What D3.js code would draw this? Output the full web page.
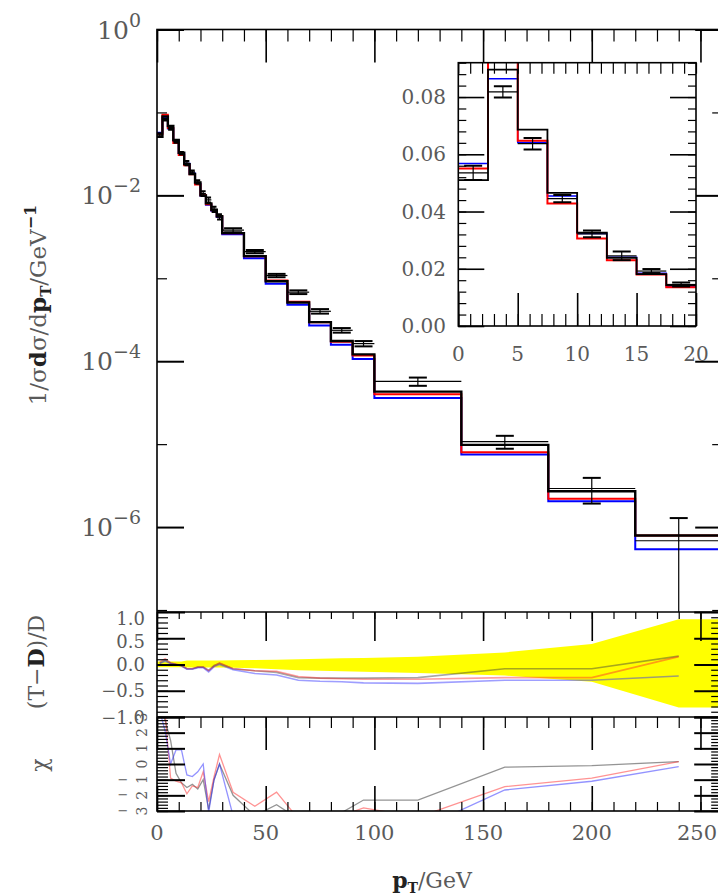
<!DOCTYPE html>
<html><head><meta charset="utf-8">
<script src="https://cdn.jsdelivr.net/npm/d3@7"></script>
<style>body{margin:0;background:#fff}svg{display:block}</style>
</head><body>
<svg id="c" width="718" height="896"></svg>
<script>
// ---------------- data ----------------
const binEdges = [0,2.5,5,7.5,10,12.5,15,17.5,20,22.5,25,27.5,30,40,50,60,70,80,90,100,140,180,220,260];
const dataVal = [0.0535,0.0818,0.0637,0.0445,0.0322,0.0245,0.0192,0.0145,0.0105,0.0088,0.0068,0.0055,0.0038,0.0021,0.00108,0.00068,0.00040,0.000236,0.000163,5.7e-5,1.07e-5,2.92e-6,6.84e-7];
const dataErr = [0.0025,0.002,0.002,0.0013,0.0012,0.0015,0.0007,0.0007,0.0007,0.0006,0.0005,0.0004,0.0002,0.0001,5e-5,3.5e-5,2.5e-5,1.5e-5,1.2e-5,6.5e-6,1.9e-6,1.0e-6,6.0e-7];
const mcBlack = [0.051,0.0896,0.0686,0.0465,0.0326,0.0238,0.0181,0.0143,0.0100,0.0080,0.0067,0.0056,0.0035,0.00185,0.00092,0.00051,0.000296,0.000175,0.000121,4.3e-5,9.8e-6,2.7e-6,7.9e-7];
const mcRed   = [0.055,0.094,0.0647,0.0428,0.0306,0.0230,0.0180,0.0135,0.0100,0.0078,0.0066,0.0056,0.0035,0.00185,0.00094,0.00052,0.000296,0.000172,0.000117,4.0e-5,8.0e-6,2.2e-6,7.9e-7];
const mcBlue  = [0.0568,0.0864,0.0641,0.0454,0.0323,0.0240,0.0184,0.0137,0.0099,0.0077,0.0065,0.0055,0.0034,0.00174,0.00086,0.00048,0.00027,0.000158,0.000106,3.6e-5,7.5e-6,2.05e-6,5.4e-7];

const ratioGrey = [0.03,0.08,0.03,0.0,-0.02,-0.08,-0.08,-0.05,-0.05,-0.11,-0.02,0.02,-0.08,-0.12,-0.15,-0.25,-0.26,-0.26,-0.26,-0.25,-0.08,-0.08,0.16];
const ratioRed  = [0.05,0.11,0.03,0.01,-0.02,-0.08,-0.08,-0.05,-0.05,-0.12,-0.03,0.03,-0.08,-0.12,-0.13,-0.23,-0.26,-0.27,-0.28,-0.28,-0.25,-0.25,0.15];
const ratioBlue = [0.02,0.06,0.02,0.0,-0.03,-0.09,-0.09,-0.06,-0.06,-0.14,-0.04,0.0,-0.1,-0.17,-0.2,-0.3,-0.32,-0.33,-0.35,-0.36,-0.3,-0.3,-0.22];
const bandUp   = [0.055,0.055,0.055,0.055,0.055,0.075,0.075,0.075,0.075,0.075,0.075,0.075,0.08,0.085,0.09,0.10,0.11,0.12,0.125,0.15,0.23,0.39,0.86];
const bandDown = [0.05,0.05,0.05,0.05,0.05,0.055,0.055,0.055,0.055,0.055,0.055,0.055,0.06,0.07,0.09,0.11,0.12,0.13,0.14,0.16,0.21,0.33,0.82];

const chiGrey = [3.5,2.8,1.5,-0.6,-1.2,-1.5,-1.3,-1.6,-1.0,-2.9,-1.0,0.0,-2.0,-3.3,-2.6,-3.5,-3.5,-3.1,-2.3,-2.3,-0.2,-0.1,0.15];
const chiRed  = [3.6,3.2,-0.9,-1.1,-1.2,-1.9,-1.4,-1.5,-0.5,-2.4,-0.8,0.6,-1.8,-2.7,-1.8,-3.5,-3.5,-3.3,-2.8,-3.4,-1.45,-0.9,0.15];
const chiBlue = [3.4,2.1,0.0,0.9,0.9,-0.7,-0.8,-0.5,0.0,-3.1,-1.0,0.0,-3.3,-3.6,-3.6,-3.6,-3.6,-3.6,-3.6,-4.2,-1.66,-1.1,-0.17];

const xTickLabels = [0,50,100,150,200,250];
const mainExpValues = [1,1e-2,1e-4,1e-6];
const mainExpLabels = ["0","\u22122","\u22124","\u22126"];
const ratioTickValues = [1,0.5,0,-0.5,-1];
const ratioTickLabels = ["1.0","0.5","0.0","\u22120.5","\u22121.0"];
const chiTickValues = [3,2,1,0,-1,-2,-3];
const insetXLabels = [0,5,10,15,20];
const insetYLabels = [0,0.02,0.04,0.06,0.08];

// ---------------- layout ----------------
const svg = d3.select("#c");
const W = 718;
const L = 157, R = 722.2, T = 29.5, MB = 612, RB = 717, CB = 811;
const x  = d3.scaleLinear().domain([0,260]).range([L,R]);
const yM = d3.scaleLog().domain([1e-7,1]).range([610,T]);
const yR = d3.scaleLinear().domain([-1,1]).range([RB,MB]);
const yC = d3.scaleLinear().domain([-3,3]).range([CB,RB]);
const xi = d3.scaleLinear().domain([0,20]).range([458.3,696]);
const yi = d3.scaleLinear().domain([0,0.092]).range([326,62.7]);
const FONT = "'DejaVu Serif','Liberation Serif',serif";
const TXT = "#5a5a5a";

const bins = d3.range(binEdges.length-1).map(i => ({
  lo: binEdges[i], hi: binEdges[i+1], c: (binEdges[i]+binEdges[i+1])/2,
  d: dataVal[i], e: dataErr[i], k: mcBlack[i], r: mcRed[i], b: mcBlue[i],
  gq: ratioGrey[i], rq: ratioRed[i], bq: ratioBlue[i], up: bandUp[i], dn: bandDown[i],
  gc: chiGrey[i], rc: chiRed[i], bc: chiBlue[i]
}));
const insetBins = bins.filter(b => b.hi <= 20);

const defs = svg.append("defs");
function clip(id, x0, y0, x1, y1) {
  defs.append("clipPath").attr("id", id).append("rect")
    .attr("x", x0).attr("y", y0).attr("width", x1-x0).attr("height", y1-y0);
  return "url(#" + id + ")";
}
const cMain = clip("cm", L, T, R, MB);
const cRatio = clip("cr", L, MB, R, RB);
const cChi = clip("cc", L, RB, R, CB);
const cInset = clip("ci", xi(0), yi(0.092), xi(20), yi(0));

function hist(g, bs, sx, sy, key, color, w) {
  const pts = bs.flatMap(b => [[sx(b.lo), sy(b[key])], [sx(b.hi), sy(b[key])]]);
  g.append("path").attr("d", d3.line()(pts)).attr("fill","none")
    .attr("stroke", color).attr("stroke-width", w);
}
function dataPts(g, bs, sx, sy, capMax, lw) {
  bs.forEach(b => {
    const yv = sy(b.d);
    const lowV = b.d - b.e > 0 ? b.d - b.e : 1e-9;
    const y1 = sy(b.d + b.e), y0 = sy(lowV);
    const xc = sx(b.c);
    const cw = Math.min(capMax, (sx(b.hi) - sx(b.lo)) * 0.9) / 2;
    g.append("line").attr("x1", sx(b.lo)).attr("x2", sx(b.hi)).attr("y1", yv).attr("y2", yv)
      .attr("stroke","#000").attr("stroke-width", lw);
    g.append("line").attr("x1", xc).attr("x2", xc).attr("y1", y0).attr("y2", y1)
      .attr("stroke","#000").attr("stroke-width", lw);
    [y0, y1].forEach(yy => g.append("line").attr("x1", xc-cw).attr("x2", xc+cw)
      .attr("y1", yy).attr("y2", yy).attr("stroke","#000").attr("stroke-width", 2));
  });
}
function ticks(axisFn, scale, values, size, transform, sw) {
  const g = svg.append("g").attr("transform", transform)
    .call(axisFn(scale).tickValues(values).tickSize(size).tickSizeOuter(0).tickFormat(""));
  g.select(".domain").remove();
  g.selectAll("line").attr("stroke","#000").attr("stroke-width", sw || 1.2);
  return g;
}

// ---------------- main panel ----------------
const gm = svg.append("g").attr("clip-path", cMain);
hist(gm, bins, x, yM, "b", "#0000ff", 2);
hist(gm, bins, x, yM, "r", "#ff0000", 2);
hist(gm, bins, x, yM, "k", "#000000", 2.4);
dataPts(gm, bins, x, yM, 18, 1.2);

// ---------------- ratio panel ----------------
const gr = svg.append("g").attr("clip-path", cRatio);
const bandPts = [{x:0, up:bins[0].up, dn:bins[0].dn}]
  .concat(bins.map(b => ({x:b.c, up:b.up, dn:b.dn})))
  .concat([{x:260, up:bins[bins.length-1].up, dn:bins[bins.length-1].dn}]);
gr.append("path").attr("d", d3.area().x(d => x(d.x)).y0(d => yR(-d.dn)).y1(d => yR(d.up))(bandPts))
  .attr("fill","#ffff00");
[["gq","rgba(60,60,60,0.45)"],["rq","rgba(255,40,40,0.45)"],["bq","rgba(40,40,255,0.45)"]].forEach(([k,c]) => {
  gr.append("path").attr("d", d3.line().x(b => x(b.c)).y(b => yR(b[k]))(bins))
    .attr("fill","none").attr("stroke", c).attr("stroke-width", 1.6);
});

// ---------------- chi panel ----------------
const gc = svg.append("g").attr("clip-path", cChi);
[["gc","rgba(60,60,60,0.55)"],["rc","rgba(255,40,40,0.5)"],["bc","rgba(40,40,255,0.5)"]].forEach(([k,c]) => {
  gc.append("path").attr("d", d3.line().x(b => x(b.c)).y(b => yC(b[k]))(bins))
    .attr("fill","none").attr("stroke", c).attr("stroke-width", 1.3);
});

// ---------------- frames & ticks ----------------
const minorX = d3.range(0, 261, 10), majorX = d3.range(0, 251, 50);
ticks(d3.axisTop, x, minorX, -12, `translate(0,${T})`);
ticks(d3.axisTop, x, majorX, -33, `translate(0,${T})`, 1.6);
ticks(d3.axisLeft, yM, [1e-1,1e-3,1e-5,1e-7], -10, `translate(${L},0)`);
ticks(d3.axisLeft, yM, [1,1e-2,1e-4,1e-6], -27, `translate(${L},0)`, 2);
ticks(d3.axisRight, yM, [1e-1,1e-3,1e-5,1e-7], -10, `translate(${R},0)`);
ticks(d3.axisRight, yM, [1,1e-2,1e-4,1e-6], -27, `translate(${R},0)`, 2);

ticks(d3.axisTop, x, minorX, -7, `translate(0,${MB})`);
ticks(d3.axisTop, x, majorX, -29, `translate(0,${MB})`, 1.6);
const rMinor = d3.range(-10, 11).map(v => v/10);
ticks(d3.axisLeft, yR, rMinor, -11, `translate(${L},0)`);
ticks(d3.axisLeft, yR, ratioTickValues, -28, `translate(${L},0)`, 2);
ticks(d3.axisRight, yR, rMinor, -11, `translate(${R},0)`);
ticks(d3.axisRight, yR, ratioTickValues, -28, `translate(${R},0)`, 2);

ticks(d3.axisTop, x, minorX, -11, `translate(0,${RB})`);
ticks(d3.axisTop, x, majorX, -33, `translate(0,${RB})`, 1.6);
ticks(d3.axisBottom, x, minorX, -9, `translate(0,${CB})`);
ticks(d3.axisBottom, x, majorX, -25, `translate(0,${CB})`, 1.6);
const cMinor = d3.range(-15, 16).map(v => v/5);
ticks(d3.axisLeft, yC, cMinor, -11, `translate(${L},0)`);
ticks(d3.axisLeft, yC, chiTickValues, -28, `translate(${L},0)`, 2);
ticks(d3.axisRight, yC, cMinor, -11, `translate(${R},0)`);
ticks(d3.axisRight, yC, chiTickValues, -28, `translate(${R},0)`, 2);

svg.append("rect").attr("x", L).attr("y", T).attr("width", R-L).attr("height", CB-T)
  .attr("fill","none").attr("stroke","#000").attr("stroke-width",1.6);
[MB, RB].forEach(yy => svg.append("line").attr("x1", L).attr("x2", R).attr("y1", yy).attr("y2", yy)
  .attr("stroke","#000").attr("stroke-width",1.6));

// ---------------- inset ----------------
svg.append("rect").attr("x", xi(0)).attr("y", yi(0.092)).attr("width", xi(20)-xi(0))
  .attr("height", yi(0)-yi(0.092)).attr("fill","#fff");
const gi = svg.append("g").attr("clip-path", cInset);
hist(gi, insetBins, xi, yi, "b", "#0000ff", 1.5);
hist(gi, insetBins, xi, yi, "r", "#ff0000", 2);
hist(gi, insetBins, xi, yi, "k", "#000000", 1.8);
dataPts(gi, insetBins, xi, yi, 18, 1.2);
const iyMinor = d3.range(0, 24).map(v => v*0.004);
ticks(d3.axisLeft, yi, iyMinor, -8, `translate(${xi(0)},0)`);
ticks(d3.axisLeft, yi, insetYLabels, -26, `translate(${xi(0)},0)`, 1.6);
ticks(d3.axisRight, yi, iyMinor, -8, `translate(${xi(20)},0)`);
ticks(d3.axisRight, yi, insetYLabels, -26, `translate(${xi(20)},0)`, 1.6);
const ixMinor = d3.range(0, 21);
ticks(d3.axisBottom, xi, ixMinor, -12, `translate(0,${yi(0)})`);
ticks(d3.axisBottom, xi, insetXLabels, -33, `translate(0,${yi(0)})`, 1.6);
ticks(d3.axisTop, xi, ixMinor, -11, `translate(0,${yi(0.092)})`);
svg.append("rect").attr("x", xi(0)).attr("y", yi(0.092)).attr("width", xi(20)-xi(0))
  .attr("height", yi(0)-yi(0.092)).attr("fill","none").attr("stroke","#000").attr("stroke-width",1.6);

// ---------------- text ----------------
function txt(xx, yy, s, size, anchor, extra) {
  const t = svg.append("text").attr("x", xx).attr("y", yy).text(s)
    .attr("font-family", FONT).attr("font-size", size).attr("fill", TXT)
    .attr("text-anchor", anchor || "middle");
  if (extra) extra(t);
  return t;
}
// main y labels
mainExpValues.forEach((v, i) => {
  const t = svg.append("text").attr("x", 141).attr("y", yM(v) + 9)
    .attr("font-family", FONT).attr("fill", TXT).attr("text-anchor","end");
  t.append("tspan").attr("font-size", 25).text("10");
  t.append("tspan").attr("font-size", 19).attr("dy", -12).text(mainExpLabels[i]);
});
// ratio labels (pushed apart where the top one meets the frame)
{
  let prev = -Infinity;
  ratioTickValues.forEach((v, i) => {
    const yy = Math.max(yR(v), prev + 23, 618);
    prev = yy;
    txt(145, yy + 6.5, ratioTickLabels[i], 18, "end");
  });
}
// chi labels (rotated digits, minus signs drawn flat)
chiTickValues.forEach(v => {
  const yy = yC(v);
  txt(0, 0, String(Math.abs(v)), 14, "middle", t => t.attr("transform", `translate(147,${yy}) rotate(-90)`));
  if (v < 0) txt(123, yy + 4, "\u2212", 13, "middle");
});
// x labels (kept inside the picture's right edge)
xTickLabels.forEach(v => {
  const t = txt(x(v), 840, String(v), 21, "middle");
  const w = t.node().getComputedTextLength();
  if (x(v) + w / 2 > W - 1) t.attr("x", W - 1).attr("text-anchor", "end");
});
// inset labels
insetYLabels.forEach(v => txt(446, yi(v) + 7, v.toFixed(2), 20, "end"));
insetXLabels.forEach(v => txt(xi(v), 361, String(v), 20, "middle"));

// x title
{
  const t = svg.append("text").attr("x", 432).attr("y", 888).attr("font-family", FONT)
    .attr("font-size", 22).attr("fill", TXT).attr("text-anchor","middle");
  t.append("tspan").attr("font-weight","bold").attr("fill","#222").text("p");
  t.append("tspan").attr("font-size", 14).attr("dy", 5).attr("font-weight","bold").attr("fill","#222").text("T");
  t.append("tspan").attr("dy", -5).text("/GeV");
}
// main y title
{
  const t = svg.append("text").attr("transform","translate(46,305) rotate(-90)")
    .attr("font-family", FONT).attr("font-size", 23).attr("fill", TXT).attr("text-anchor","middle");
  t.append("tspan").text("1/\u03c3");
  t.append("tspan").attr("font-weight","bold").attr("fill","#222").text("d");
  t.append("tspan").text("\u03c3/d");
  t.append("tspan").attr("font-weight","bold").attr("fill","#222").text("p");
  t.append("tspan").attr("font-size", 15).attr("dy", 5).attr("font-weight","bold").attr("fill","#222").text("T");
  t.append("tspan").attr("dy", -5).text("/GeV");
  t.append("tspan").attr("font-size", 16).attr("dy", -10).attr("font-weight","bold").attr("fill","#222").text("\u22121");
}
// ratio y title
{
  const t = svg.append("text").attr("transform","translate(44,662) rotate(-90)")
    .attr("font-family", FONT).attr("font-size", 22).attr("fill", TXT).attr("text-anchor","middle");
  t.append("tspan").text("(T\u2212");
  t.append("tspan").attr("font-weight","bold").attr("fill","#222").text("D");
  t.append("tspan").text(")/D");
}
txt(0, 0, "\u03c7", 22, "middle", t => t.attr("transform","translate(47,765) rotate(-90)"));
</script>
</body></html>
